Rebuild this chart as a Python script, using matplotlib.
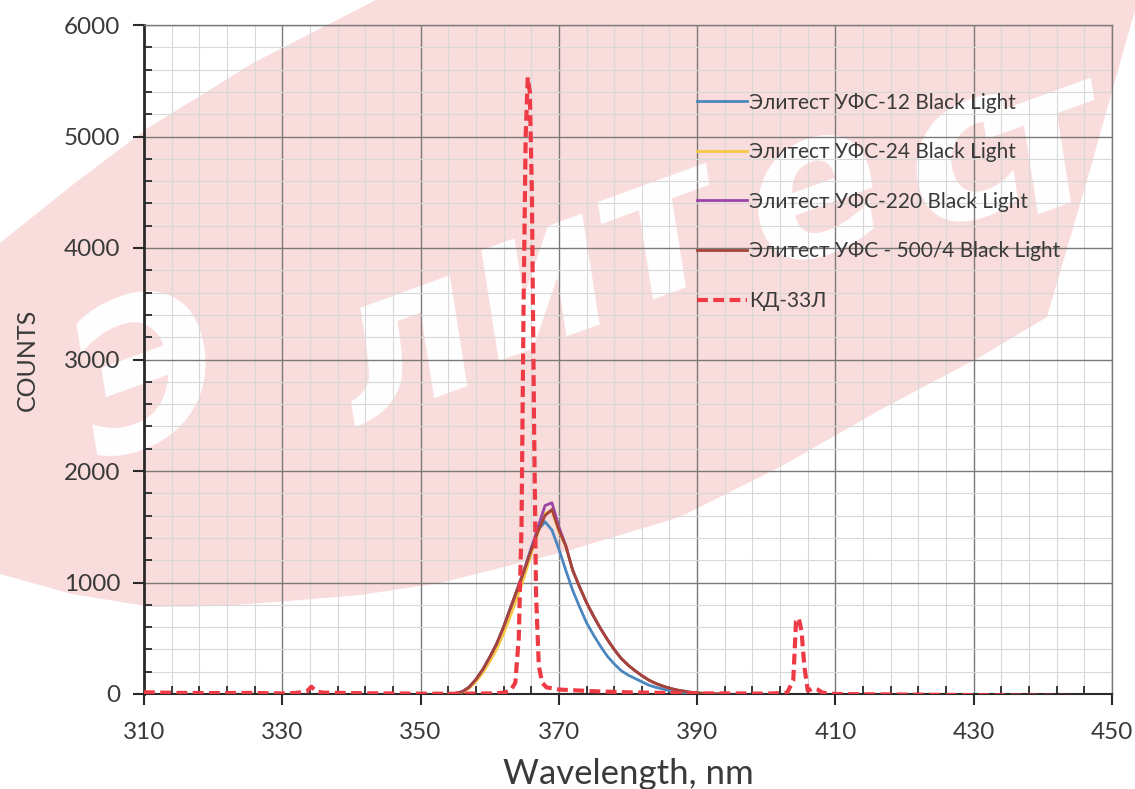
import numpy as np
import matplotlib.pyplot as plt
from matplotlib.patches import Polygon
from matplotlib.ticker import FixedLocator

plt.rcParams['font.family'] = ['Lato', 'Noto Sans', 'DejaVu Sans']

# spectra (wavelength nm -> counts)
wl_led = [354, 355, 356, 357, 358, 359, 360, 361, 362, 363, 364, 365, 366, 367,
          368, 369, 370, 371, 372, 373, 374, 375, 376, 377, 378, 379, 380, 381,
          382, 383, 384, 385, 386, 387, 388, 389, 390, 391, 392, 393, 394]

ufs12 = [0, 5, 20, 60, 130, 220, 330, 450, 600, 770, 940, 1120, 1310, 1470,
         1545, 1470, 1300, 1110, 930, 780, 640, 530, 430, 340, 270, 210, 170, 140,
         110, 80, 60, 45, 30, 20, 12, 6, 3, 0, 0, 0, 0]
ufs24 = [0, 5, 15, 50, 110, 190, 290, 400, 540, 700, 870, 1050, 1260, 1450,
         1620, 1640, 1460, 1320, 1110, 960, 820, 700, 590, 490, 400, 320, 260, 210,
         165, 125, 95, 72, 52, 37, 26, 16, 10, 5, 2, 0, 0]
ufs220 = [0, 5, 20, 60, 130, 220, 330, 450, 600, 770, 940, 1110, 1300, 1500,
          1690, 1715, 1500, 1330, 1110, 960, 820, 700, 590, 490, 400, 320, 260, 210,
          165, 125, 95, 72, 52, 37, 26, 16, 10, 5, 2, 0, 0]
ufs500 = [0, 5, 20, 60, 130, 220, 330, 450, 600, 770, 940, 1110, 1290, 1460,
          1600, 1655, 1470, 1330, 1110, 960, 820, 700, 590, 490, 400, 320, 260, 210,
          165, 125, 95, 72, 52, 37, 26, 16, 10, 5, 2, 0, 0]

wl_kd = [310, 315, 320, 325, 330, 332, 333.5, 334.2, 335, 336, 340, 345, 350, 355,
         360, 362, 363, 363.7, 364.2, 364.6, 364.9, 365.2, 365.5, 365.8, 366.1,
         366.4, 366.7, 367.1, 367.6, 368.2, 370, 375, 380, 385, 390, 395, 400,
         403, 403.9, 404.3, 404.7, 405.1, 405.5, 406, 406.8, 407.4, 408.2, 410,
         420, 430, 440, 450]
kd33l = [15, 10, 8, 10, 5, 10, 20, 65, 20, 12, 8, 5, 3, 2,
         5, 12, 30, 100, 500, 1500, 3500, 5000, 5530, 5400, 4500,
         2500, 900, 250, 100, 60, 40, 25, 15, 10, 5, 5, 3,
         10, 120, 650, 680, 560, 250, 30, 50, 40, 10, 0,
         -5, -10, -15, -20]

labels = ['Элитест УФС-12 Black Light', 'Элитест УФС-24 Black Light',
          'Элитест УФС-220 Black Light', 'Элитест УФС - 500/4 Black Light',
          'КД-33Л']
colors = ['#4a86c0', '#f7c843', '#9a45a8', '#a5443a', '#ee3a45']

x_major = np.arange(310, 451, 20)
x_minor = np.arange(310, 451, 4)
y_major = np.arange(0, 6001, 1000)
y_minor = np.arange(0, 6001, 200)

# watermark outline, in figure pixels from the top-left corner
wm_x = [0, 75, 148, 253, 376, 1135, 1135, 1090, 1047, 980, 880, 780, 680,
        567, 440, 360, 289, 220, 152, 72, 0]
wm_y = [243, 183, 128, 63, 0, 0, 10, 170, 317, 357, 410, 467, 517,
        551, 583, 595, 601, 606, 607, 594, 574]
# watermark letters and their centres (figure pixels)
wm_chars = ['Э', 'л', 'и', 'т', 'е', 'с', 'т']
wm_cx = [150, 405, 540, 660, 815, 965, 1045]
wm_cy = [385, 350, 285, 235, 195, 160, 150]

W, H = 1135, 789
fig = plt.figure(figsize=(W / 100, H / 100), dpi=100)

pts = np.column_stack([np.array(wm_x) / W, 1 - np.array(wm_y) / H])
fig.patches.append(Polygon(pts, closed=True, transform=fig.transFigure,
                           facecolor='#f9dcdc', edgecolor='none', zorder=-3))
for ch, cx, cy in zip(wm_chars, wm_cx, wm_cy):
    fig.text(cx / W, 1 - cy / H, ch, transform=fig.transFigure,
             fontsize=145, color='white', fontweight='bold', style='italic',
             family='DejaVu Sans', rotation=20, rotation_mode='anchor',
             ha='center', va='center', zorder=-2)

ax = fig.add_axes([144 / W, 1 - 694 / H, 968 / W, 669 / H])
ax.set_facecolor('none')

ax.plot(wl_led, ufs12, color=colors[0], lw=2, label=labels[0], zorder=3)
ax.plot(wl_led, ufs24, color=colors[1], lw=2, label=labels[1], zorder=3)
ax.plot(wl_led, ufs220, color=colors[2], lw=2, label=labels[2], zorder=3)
ax.plot(wl_led, ufs500, color=colors[3], lw=2, label=labels[3], zorder=3)
ax.plot(wl_kd, kd33l, color=colors[4], lw=3, dashes=(2.6, 1.3), label=labels[4], zorder=4)

ax.set_xlim(310, 450)
ax.set_ylim(0, 6000)
ax.xaxis.set_major_locator(FixedLocator(x_major))
ax.xaxis.set_minor_locator(FixedLocator(x_minor))
ax.yaxis.set_major_locator(FixedLocator(y_major))
ax.yaxis.set_minor_locator(FixedLocator(y_minor))

ax.grid(which='major', color='#7a7a7a', lw=1.0, zorder=0)
ax.grid(which='minor', color='#d8d8d8', lw=0.8, zorder=0)
ax.set_axisbelow(True)

for s in ['top', 'right']:
    ax.spines[s].set_color('#7a7a7a')
    ax.spines[s].set_linewidth(1.0)
ax.spines['left'].set_linewidth(2)
ax.spines['bottom'].set_linewidth(1.5)
ax.spines['left'].set_color('#2a2a2a')
ax.spines['bottom'].set_color('#2a2a2a')

ax.tick_params(which='major', direction='out', length=8, width=1.5,
               color='#2a2a2a', labelsize=17.5, labelcolor='#3a3a3a')
ax.tick_params(axis='x', which='major', pad=12)
ax.tick_params(axis='y', which='major', pad=9)
ax.tick_params(which='minor', direction='in', length=6, width=1.3, color='#2a2a2a')

ax.set_xlabel('Wavelength, nm', fontsize=25, color='#3a3a3a', labelpad=11)
ax.set_ylabel('COUNTS', fontsize=18, color='#3a3a3a', labelpad=18)

leg = ax.legend(loc='upper left', bbox_to_anchor=(0.571, 0.899), frameon=False,
                fontsize=15, handlelength=2.4, handletextpad=0.1,
                labelspacing=1.42, borderaxespad=0, borderpad=0)
for t in leg.get_texts():
    t.set_color('#3a3a3a')

fig.savefig('out.png', dpi=100)
